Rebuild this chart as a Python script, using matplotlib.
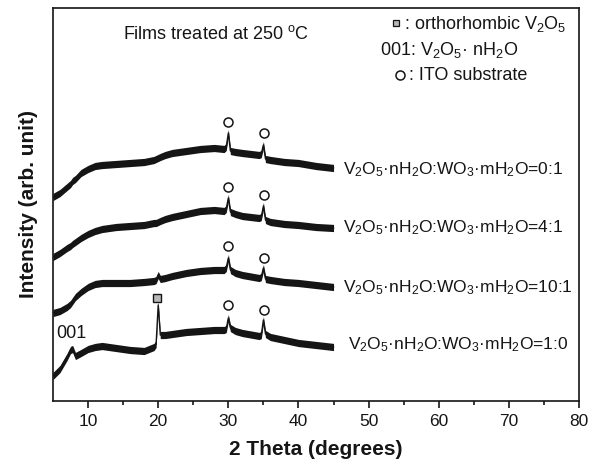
import matplotlib
matplotlib.use("Agg")
import matplotlib.pyplot as plt
import numpy as np

plt.rcParams['font.family'] = ['Liberation Sans', 'DejaVu Sans']
plt.rcParams['mathtext.fontset'] = 'custom'
plt.rcParams['mathtext.rm'] = 'Liberation Sans'
plt.rcParams['mathtext.it'] = 'Liberation Sans:italic'
plt.rcParams['mathtext.bf'] = 'Liberation Sans:bold'

# ---- data (2 theta in degrees, intensity in arbitrary offset units) ----
two_theta = [5, 6, 7, 7.5, 7.8, 8.2, 9, 10, 11, 12, 14, 16, 18, 19.4, 19.7, 20.0, 20.3,
             21, 22, 24, 26, 28, 29.4, 29.7, 30.0, 30.3, 31, 32, 34.4, 34.7, 35.0, 35.3,
             36, 38, 40, 42.5, 45]

int_0_1 = [204, 208, 214, 217, 220, 222, 228, 232, 235, 236, 237, 238, 239, 241, 242, 243, 244,
           246, 248, 250, 252, 253, 252, 254, 268, 250, 249, 248, 246, 247, 256, 242,
           241, 239, 238, 235, 233]
int_4_1 = [144, 148, 153, 155, 157, 159, 163, 167, 170, 172, 174, 175, 176, 178, 178, 179, 180,
           182, 184, 187, 190, 191, 190, 192, 203, 189, 187, 185, 183, 184, 195, 181,
           179, 177, 176, 174, 173]
int_10_1 = [88, 90, 94, 97, 100, 104, 109, 114, 117, 118, 118, 118, 119, 120, 121, 126, 122,
            123, 125, 128, 130, 131, 131, 133, 143, 131, 128, 126, 123, 124, 133, 122,
            121, 119, 118, 116, 114]
int_1_0 = [25, 32, 44, 51, 52, 45, 48, 52, 54, 55, 53, 51, 50, 54, 57, 96, 66,
           66, 67, 69, 70, 71, 71, 72, 83, 73, 70, 68, 65, 66, 81, 67,
           64, 61, 58, 56, 54]

series = [int_0_1, int_4_1, int_10_1, int_1_0]
ratios = ['0:1', '4:1', '10:1', '1:0']
label_x = [46.4, 46.4, 46.4, 47.1]
label_y = [231, 173, 113, 56]

# ITO peak markers (x, y) per series
ito_x = [30.0, 35.1]
ito_y = [[279, 268], [214, 206], [155, 143], [96, 91]]
ortho_x, ortho_y = 19.9, 103
peak001_x, peak001_y = 7.6, 68

INK = '#151515'

fig = plt.figure(figsize=(6.0, 4.62), dpi=100)
ax = fig.add_axes([53/600, 1 - 401/462, 526/600, 393/462])

band = 3.6
for ys in series:
    xs = np.array(two_theta)
    yv = np.array(ys, dtype=float)
    ax.fill_between(xs, yv - band, yv + band, color=INK, lw=0)
    ax.plot(xs, yv, color=INK, lw=1.0)

for lx, ly, r in zip(label_x, label_y, ratios):
    ax.text(lx, ly, r'V$_2$O$_5$·nH$_2$O:WO$_3$·mH$_2$O=' + r, fontsize=12.5,
            ha='left', va='center', color=INK)

for ys in ito_y:
    ax.plot(ito_x, ys, 'o', ms=6.5, mfc='white', mec=INK, mew=1.1, ls='none')
ax.plot([ortho_x], [ortho_y], 's', ms=6, mfc='#b8b8b8', mec=INK, mew=1.0)
ax.text(peak001_x, peak001_y, '001', fontsize=13, ha='center', va='center', color=INK)

# annotations top (positions in axes fractions)
tr = ax.transAxes
def px(xp, yp):
    return ((xp - 53) / 526, (401 - yp) / 393)

ax.text(*px(123, 34), r'Films treated at 250 $^{\mathrm{o}}$C', fontsize=13, ha='left', va='center',
        transform=tr, color=INK)
ax.plot(*px(396, 23), 's', ms=4.5, mfc='#b8b8b8', mec=INK, mew=0.9, transform=tr, clip_on=False)
ax.text(*px(404, 24), r': orthorhombic V$_2$O$_5$', fontsize=13, ha='left', va='center', transform=tr, color=INK)
ax.text(*px(380, 50), r'001: V$_2$O$_5$· nH$_2$O', fontsize=13, ha='left', va='center', transform=tr, color=INK)
ax.plot(*px(400, 75), 'o', ms=6.5, mfc='white', mec=INK, mew=1.1, transform=tr, clip_on=False)
ax.text(*px(409, 75), ': ITO substrate', fontsize=13, ha='left', va='center', transform=tr, color=INK)

ax.set_xlim(5, 80)
ax.set_ylim(0, 393)
ax.set_xticks(np.arange(10, 81, 10))
ax.set_xticks(np.arange(15, 80, 10), minor=True)
ax.set_yticks([])
ax.tick_params(axis='x', which='major', direction='out', length=5, width=1.2, labelsize=12.5, pad=4,
               colors=INK)
ax.tick_params(axis='x', which='minor', direction='out', length=3, width=1.2, colors=INK)
ax.tick_params(top=False, right=False)
for s in ax.spines.values():
    s.set_linewidth(1.2)
    s.set_color(INK)

ax.set_xlabel('2 Theta (degrees)', fontsize=15, fontweight='bold', labelpad=8, color=INK)
ax.set_ylabel('Intensity (arb. unit)', fontsize=15, fontweight='bold', labelpad=11, color=INK)

fig.savefig('out.png', dpi=100)
